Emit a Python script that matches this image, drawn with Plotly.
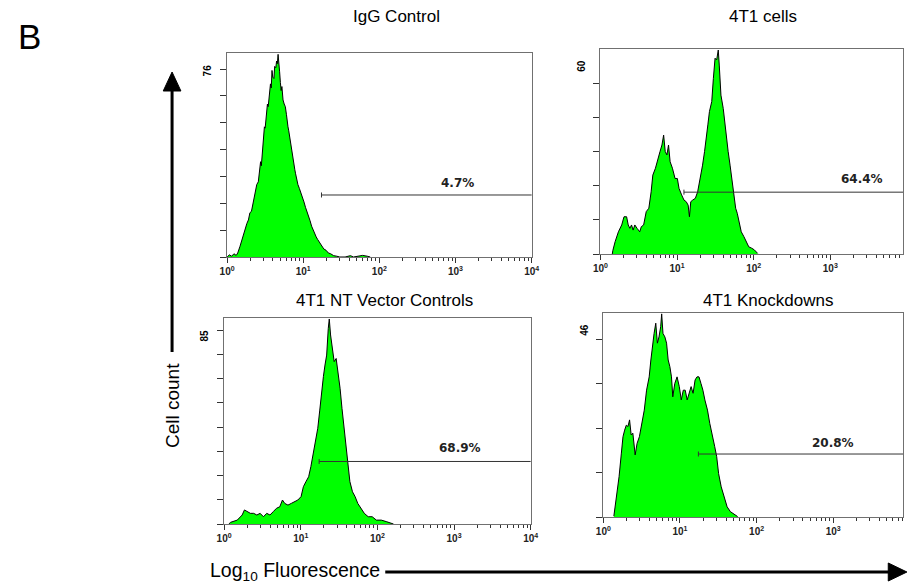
import math
import plotly.graph_objects as go

# ---------------- data (x in log10 fluorescence decades, y = cell count) ----------------
igg_logx = [0.00, 0.03, 0.06, 0.09, 0.12, 0.14, 0.17, 0.20, 0.23, 0.26, 0.28, 0.30, 0.32, 0.34,
            0.36, 0.38, 0.39, 0.41, 0.42, 0.44, 0.45, 0.465, 0.48, 0.49, 0.50, 0.51, 0.52, 0.53,
            0.54, 0.55, 0.56, 0.57, 0.58, 0.59, 0.60, 0.615, 0.625, 0.64, 0.65, 0.66, 0.67, 0.68,
            0.69, 0.70, 0.71, 0.72, 0.735, 0.75, 0.765, 0.78, 0.79, 0.80, 0.81, 0.82, 0.83, 0.845,
            0.86, 0.875, 0.89, 0.90, 0.915, 0.93, 0.95, 0.97, 0.99, 1.01, 1.03, 1.05, 1.07, 1.09,
            1.11, 1.13, 1.15, 1.17, 1.19, 1.21, 1.24, 1.27, 1.30, 1.33, 1.36, 1.40, 1.44, 1.48,
            1.55, 1.62, 1.66, 1.72, 1.78, 1.84, 1.88]
igg_count = [0.0, 0.8, 0.3, 1.2, 0.6, 1.5, 4.0, 7.0, 9.5, 12.5, 13.8, 16.5, 17.0, 20.0,
             22.5, 24.5, 27.0, 28.0, 30.0, 35.5, 34.0, 40.0, 44.0, 48.5, 48.0, 51.0, 55.0, 57.0,
             56.0, 60.0, 62.0, 64.5, 63.0, 69.5, 67.0, 66.5, 71.0, 70.5, 73.0, 72.0, 75.5, 70.0,
             69.0, 65.0, 62.0, 63.5, 58.5, 57.0, 56.0, 53.0, 50.0, 48.5, 47.0, 45.0, 43.5, 41.0,
             38.0, 34.5, 32.5, 31.0, 28.5, 27.0, 25.5, 24.0, 22.0, 20.5, 18.5, 17.0, 15.0, 13.5,
             11.5, 10.0, 8.5, 7.5, 6.5, 5.5, 4.5, 3.0, 2.5, 1.5, 1.2, 0.5, 0.3, 0.0,
             0.0, 0.5, 0.0, 0.4, 0.6, 0.3, 0.0]

cells_logx = [0.155, 0.162, 0.192, 0.235, 0.278, 0.308, 0.342, 0.363, 0.385, 0.406, 0.427, 0.449,
              0.479, 0.513, 0.534, 0.564, 0.598, 0.632, 0.662, 0.684, 0.718, 0.748, 0.778, 0.803,
              0.825, 0.846, 0.868, 0.889, 0.910, 0.940, 0.974, 1.004, 1.026, 1.060, 1.090, 1.120,
              1.145, 1.162, 1.179, 1.205, 1.239, 1.269, 1.303, 1.333, 1.359, 1.376, 1.402, 1.423,
              1.453, 1.474, 1.496, 1.517, 1.538, 1.551, 1.573, 1.603, 1.624, 1.645, 1.667, 1.692,
              1.718, 1.744, 1.765, 1.786, 1.812, 1.838, 1.872, 1.902, 1.936, 1.974, 2.009, 2.051]
cells_count = [0.0, 1.0, 3.6, 6.5, 8.5, 10.9, 10.9, 8.5, 7.5, 8.5, 7.0, 8.5,
               7.5, 6.5, 8.0, 8.5, 12.4, 13.4, 18.2, 23.1, 25.1, 28.0, 30.0, 31.9,
               34.8, 30.0, 29.0, 31.9, 27.0, 25.1, 22.1, 22.1, 19.2, 17.3, 15.8, 15.3,
               14.3, 10.9, 15.3, 15.8, 16.3, 18.2, 22.1, 26.0, 30.0, 33.9, 37.8, 41.7,
               44.6, 51.4, 57.3, 56.8, 59.7, 55.3, 46.5, 42.6, 37.8, 34.8, 30.0, 26.0,
               21.2, 17.3, 13.4, 11.9, 9.5, 6.5, 5.1, 3.6, 2.1, 1.7, 1.2, 0.2]

nt_logx = [0.060, 0.085, 0.171, 0.235, 0.265, 0.299, 0.342, 0.385, 0.427, 0.470, 0.513, 0.556,
           0.598, 0.641, 0.684, 0.726, 0.761, 0.791, 0.833, 0.876, 0.919, 0.962, 1.004, 1.034,
           1.068, 1.103, 1.132, 1.162, 1.197, 1.222, 1.248, 1.274, 1.295, 1.316, 1.338, 1.359,
           1.372, 1.389, 1.410, 1.436, 1.462, 1.487, 1.513, 1.538, 1.564, 1.590, 1.615, 1.641,
           1.675, 1.709, 1.744, 1.786, 1.829, 1.880, 1.932, 1.987, 2.051, 2.115, 2.179, 2.21]
nt_count = [0.0, 0.7, 1.6, 3.7, 5.8, 5.1, 4.4, 4.4, 3.7, 4.4, 3.0, 4.4,
            3.7, 5.1, 6.5, 7.1, 9.9, 8.5, 7.8, 8.5, 9.2, 9.9, 11.3, 15.4,
            17.5, 19.5, 23.7, 28.5, 34.7, 39.5, 47.0, 56.0, 60.8, 65.6, 69.7, 80.7,
            84.6, 78.0, 72.5, 67.0, 68.3, 62.8, 56.0, 47.7, 39.5, 31.2, 24.3, 17.5,
            13.3, 11.3, 8.5, 6.5, 4.4, 3.0, 3.0, 1.6, 1.6, 1.0, 0.3, 0.0]

kd_logx = [0.137, 0.171, 0.205, 0.235, 0.256, 0.278, 0.299, 0.321, 0.342, 0.363, 0.385, 0.415,
           0.440, 0.470, 0.504, 0.534, 0.564, 0.598, 0.620, 0.641, 0.662, 0.684, 0.705, 0.726,
           0.748, 0.761, 0.778, 0.803, 0.825, 0.846, 0.868, 0.889, 0.906, 0.932, 0.962, 0.991,
           1.017, 1.043, 1.068, 1.094, 1.120, 1.145, 1.171, 1.197, 1.222, 1.248, 1.274, 1.299,
           1.325, 1.359, 1.389, 1.419, 1.453, 1.479, 1.504, 1.538, 1.573, 1.615, 1.658, 1.709,
           1.752]
kd_count = [0.2, 4.6, 9.1, 14.4, 18.1, 19.6, 20.7, 20.4, 21.9, 18.5, 18.9, 14.0,
            16.6, 18.1, 21.1, 24.1, 28.6, 31.6, 35.4, 39.2, 41.4, 43.7, 39.2, 40.6,
            42.9, 45.8, 41.4, 40.6, 39.2, 35.4, 33.9, 31.6, 27.1, 30.1, 31.6, 29.4,
            26.4, 28.6, 28.6, 26.4, 27.9, 29.4, 27.9, 30.9, 31.6, 31.6, 30.1, 28.6,
            26.4, 24.1, 21.1, 18.9, 15.9, 13.6, 9.8, 6.8, 4.6, 2.3, 1.2, 0.7,
            0.1]

titles = ["IgG Control", "4T1 cells", "4T1 NT Vector Controls", "4T1 Knockdowns"]
y_max_labels = [76, 60, 85, 46]
gate_labels = ["4.7%", "64.4%", "68.9%", "20.8%"]
gate_start_logx = [1.24, 1.09, 1.24, 1.24]
gate_level = [23.1, 18.1, 25.8, 14.2]
label_pos_logx = [3.03, 3.42, 3.08, 3.00]
label_pos_count = [27.6, 22.0, 31.4, 16.7]
x_tick_vals = [0, 1, 2, 3, 4]
x_tick_text = ["10<sup>0</sup>", "10<sup>1</sup>", "10<sup>2</sup>", "10<sup>3</sup>", "10<sup>4</sup>"]

# ---------------- layout geometry (pixels of a 911x584 canvas) ----------------
W, H = 911, 584
boxes = [  # left, right, top, bottom (px)
    (223, 533, 53, 257),
    (603, 911, 49, 254),
    (220, 532, 318, 524),
    (606, 911, 313, 517),
]
decade_px = [77.5, 78.0, 78.0, 78.0]

series = [(igg_logx, igg_count), (cells_logx, cells_count), (nt_logx, nt_count), (kd_logx, kd_count)]

minor_vals = [d + math.log10(k) for d in range(4) for k in range(2, 10)]

fig = go.Figure()
layout = dict(width=W, height=H, margin=dict(l=0, r=0, t=0, b=0),
              paper_bgcolor="white", plot_bgcolor="white", showlegend=False,
              font=dict(family="Liberation Sans, Arial, sans-serif", color="black"))
shapes = []
annotations = []

for i in range(4):
    n = i + 1
    xs = "x" if n == 1 else f"x{n}"
    ys = "y" if n == 1 else f"y{n}"
    L, R, T, B = boxes[i]
    xmax = (R - L) / decade_px[i]
    lx, ly = series[i]
    fig.add_trace(go.Scatter(x=lx, y=ly, mode="lines", xaxis=xs, yaxis=ys,
                             line=dict(color="black", width=1), fill="tozeroy",
                             fillcolor="#00FF00", hoverinfo="skip"))
    xkey = "xaxis" if n == 1 else f"xaxis{n}"
    ykey = "yaxis" if n == 1 else f"yaxis{n}"
    layout[xkey] = dict(domain=[L / W, R / W], range=[0, xmax], anchor=ys,
                        showline=True, linecolor="#707070", linewidth=1, mirror=True,
                        ticks="outside", ticklen=5, tickcolor="#333", tickwidth=1,
                        tickvals=x_tick_vals, ticktext=[f"<b>{t}</b>" for t in x_tick_text],
                        tickfont=dict(size=10, family="Liberation Sans, Arial", color="#222"),
                        showgrid=False, zeroline=False, fixedrange=True,
                        minor=dict(tickvals=minor_vals, ticks="outside", ticklen=3,
                                   tickcolor="#333", showgrid=False))
    ymax = y_max_labels[i]
    layout[ykey] = dict(domain=[1 - B / H, 1 - T / H], range=[0, ymax], anchor=xs,
                        showline=True, linecolor="#707070", linewidth=1, mirror=True,
                        ticks="outside", ticklen=6, tickcolor="#333",
                        tickvals=list(range(0, ymax, 10)), showticklabels=False,
                        showgrid=False, zeroline=False, fixedrange=True)
    # y max label
    annotations.append(dict(text=f"<b>{ymax}</b>", xref="paper", yref="paper",
                            x=(L - 20) / W, y=1 - (T + 17) / H, showarrow=False,
                            textangle=-90, font=dict(size=10, family="Arial"),
                            xanchor="center", yanchor="middle"))
    # panel title
    cx = [395, 769, 383, 774][i]
    cy = [17, 17, 300, 300][i]
    annotations.append(dict(text=titles[i], xref="paper", yref="paper", x=cx / W, y=1 - cy / H,
                            showarrow=False, font=dict(size=17, family="Liberation Sans, Arial"),
                            xanchor="center", yanchor="middle"))
    # gate marker
    g0 = gate_start_logx[i]
    gy = gate_level[i]
    shapes.append(dict(type="line", xref=xs, yref=ys, x0=g0, x1=4.2, y0=gy, y1=gy,
                       line=dict(color="#333", width=1)))
    tick_h = ymax * 2.5 / (B - T)
    shapes.append(dict(type="line", xref=xs, yref=ys, x0=g0, x1=g0, y0=gy - tick_h, y1=gy + tick_h,
                       line=dict(color="#333", width=1)))
    annotations.append(dict(text=f"<b>{gate_labels[i]}</b>", xref=xs, yref=ys,
                            x=label_pos_logx[i], y=label_pos_count[i], showarrow=False,
                            font=dict(size=12, family="DejaVu Sans", color="#222"),
                            xanchor="center", yanchor="middle"))

# "B" panel letter
annotations.append(dict(text="B", xref="paper", yref="paper", x=22 / W, y=1 - 37 / H,
                        showarrow=False, font=dict(size=35, family="Liberation Sans, Arial"),
                        xanchor="center", yanchor="middle"))
# Cell count axis label + arrow
annotations.append(dict(text="Cell count", xref="paper", yref="paper", x=167 / W, y=1 - 406 / H,
                        showarrow=False, textangle=-90,
                        font=dict(size=19, family="Liberation Sans Narrow, Arial Narrow, Arial"),
                        xanchor="center", yanchor="middle"))
shapes.append(dict(type="line", xref="paper", yref="paper", x0=167 / W, x1=167 / W,
                   y0=1 - 352 / H, y1=1 - 88 / H, line=dict(color="black", width=3)))
shapes.append(dict(type="path", xref="paper", yref="paper",
                   path=f"M {158/W} {1-91/H} L {176/W} {1-91/H} L {167/W} {1-72/H} Z",
                   fillcolor="black", line=dict(color="black", width=1)))
# Log10 Fluorescence label + arrow
annotations.append(dict(text="Log<sub>10</sub> Fluorescence", xref="paper", yref="paper",
                        x=204 / W, y=1 - 571 / H, showarrow=False,
                        font=dict(size=19.5, family="Liberation Sans, Arial"),
                        xanchor="left", yanchor="middle"))
shapes.append(dict(type="line", xref="paper", yref="paper", x0=384 / W, x1=900 / W,
                   y0=1 - 572 / H, y1=1 - 572 / H, line=dict(color="black", width=3)))
shapes.append(dict(type="path", xref="paper", yref="paper",
                   path=f"M {896/W} {1-563/H} L {896/W} {1-581/H} L {915/W} {1-572/H} Z",
                   fillcolor="black", line=dict(color="black", width=1)))

layout["shapes"] = shapes
layout["annotations"] = annotations
fig.update_layout(**layout)
fig.write_html("out.html", config={"displayModeBar": False},
               post_script="document.body.style.margin='0px';")
